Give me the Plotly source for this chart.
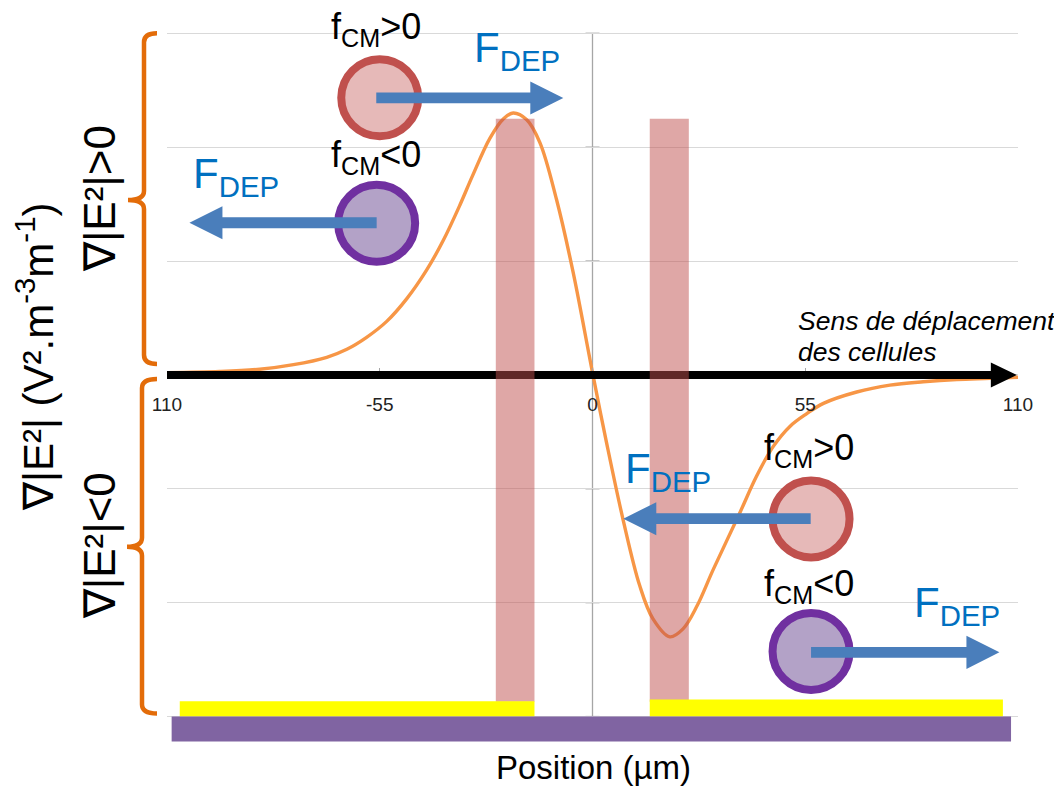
import plotly.graph_objects as go

# ---------------- data ----------------
position_um = [-110, -96.4, -86, -77.3, -68.7, -63.5, -58.4, -53.2, -48, -42.9, -38.6, -34.3, -31, -26.5, -23, -20.5,
               -17, -13.6, -9.3, -5, 0,
               3.6, 7.9, 12.2, 15.6, 20, 23.4, 27, 31.2, 38.1, 42.4, 46.7, 51.1, 55.4, 59.7, 68.3, 76.9, 85.5, 94.2,
               102.8, 110]
grad_e2 = [0.02, 0.03, 0.05, 0.09, 0.155, 0.225, 0.33, 0.47, 0.67, 0.92, 1.18, 1.49, 1.75, 2.08, 2.25, 2.30,
           2.24, 2.04, 1.54, 0.90, 0.02,
           -0.59, -1.27, -1.85, -2.14, -2.30, -2.23, -2.03, -1.71, -1.21, -0.89, -0.63, -0.45, -0.34, -0.25, -0.15,
           -0.09, -0.06, -0.04, -0.03, -0.02]

tick_vals = [-110, -55, 0, 55, 110]
tick_text = ["110", "-55", "0", "55", "110"]
grid_vals = [-3, -2, -1, 0, 1, 2, 3]

# electrodes (semi-transparent bars), gold layers and substrate
elec_x0 = [-25.0, 14.8]
elec_x1 = [-15.0, 24.9]
elec_top = [2.25, 2.25]
elec_bottom = [-2.87, -2.87]
gold_x0 = [-106.7, 14.8]
gold_x1 = [-15.0, 106.1]
gold_top = [-2.866, -2.851]
gold_bottom = [-3.0, -3.0]
sub_x = [-108.8, 108.2]
sub_y = [-3.0, -3.22]

# cells
cell_x = [-55.0, -55.8, 56.5, 56.5]
cell_y = [2.434, 1.332, -1.265, -2.428]
cell_fill = ["#E6B9B8", "#B3A2C7", "#E6B9B8", "#B3A2C7"]
cell_edge = ["#C0504D", "#7030A0", "#C0504D", "#7030A0"]
fcm_text = ["f<sub>CM</sub>&gt;0", "f<sub>CM</sub>&lt;0", "f<sub>CM</sub>&gt;0", "f<sub>CM</sub>&lt;0"]
fcm_x = [-56.0, -56.0, 56.0, 56.0]
fcm_base = [2.945, 1.827, -0.746, -1.945]

# DEP force arrows
dep_tail_x = [-55.9, -55.8, 56.4, 56.5]
dep_tip_x = [-7.55, -104.2, 7.96, 105.2]
dep_y = [2.432, 1.336, -1.263, -2.436]
dep_label_x = [-19.5, -92.2, 19.6, 94.3]
dep_label_base = [2.746, 1.640, -0.947, -2.123]

# cell displacement arrow along y = 0
move_x = [-110.0, 109.7]
move_y = 0.0

# ---------------- layout geometry ----------------
OFF = 8                      # page body margin of the browser
W, H = 1062 - OFF, 789 - OFF
ML, MR, MT, MB = 167 - OFF, 44, 30.72 - OFF, 43.5
X_RANGE = [-110, 110]
Y_RANGE = [-3.25, 3.02]
PW = W - ML - MR
PH = H - MT - MB
UX = (X_RANGE[1] - X_RANGE[0]) / PW   # data units per pixel (x)
UY = (Y_RANGE[1] - Y_RANGE[0]) / PH   # data units per pixel (y)


def pxp(px):
    return (px - OFF - ML) / PW


def pyp(py):
    return (H - MB - (py - OFF)) / PH


FONT = "Liberation Sans, Arial, sans-serif"
ORANGE = "#F79646"
BRACE = "#E36C09"
BLUE = "#4A7EBB"
BLUE_TXT = "#0070C0"


def arrow_path(x0, x1, y, half_shaft, head_len, head_half):
    s = 1 if x1 > x0 else -1
    base = x1 - s * head_len * UX
    hs = half_shaft * UY
    hh = head_half * UY
    pts = [(x0, y + hs), (base, y + hs), (base, y + hh), (x1, y),
           (base, y - hh), (base, y - hs), (x0, y - hs)]
    return "M " + " L ".join(f"{a},{b}" for a, b in pts) + " Z"


def brace_path(x_line, x_hook, x_nub, top, mid, bot, r=9):
    X, Y = pxp, pyp
    return (f"M {X(x_hook)},{Y(top)} Q {X(x_line)},{Y(top)} {X(x_line)},{Y(top + r)} "
            f"L {X(x_line)},{Y(mid - r)} Q {X(x_line)},{Y(mid)} {X(x_nub)},{Y(mid)} "
            f"Q {X(x_line)},{Y(mid)} {X(x_line)},{Y(mid + r)} "
            f"L {X(x_line)},{Y(bot - r)} Q {X(x_line)},{Y(bot)} {X(x_hook)},{Y(bot)}")


fig = go.Figure()

fig.add_trace(go.Scatter(
    x=position_um, y=grad_e2, mode="lines",
    line=dict(color=ORANGE, width=3.4, shape="spline", smoothing=1.0),
    hoverinfo="skip", showlegend=False))

fig.add_trace(go.Scatter(
    x=cell_x, y=cell_y, mode="markers",
    marker=dict(size=77, color=cell_fill, line=dict(color=cell_edge, width=8)),
    hoverinfo="skip", showlegend=False))

shapes = []
# vertical axis line at x = 0 with crossing ticks
shapes.append(dict(type="line", xref="x", yref="y", x0=0, x1=0, y0=-3, y1=3,
                   line=dict(color="#A6A6A6", width=1.3), layer="below"))
for g in grid_vals:
    shapes.append(dict(type="line", xref="x", yref="y", xsizemode="pixel", xanchor=0,
                       x0=-7, x1=7, y0=g, y1=g, line=dict(color="#A6A6A6", width=1.3), layer="below"))

# black displacement arrow
shapes.append(dict(type="path", xref="x", yref="y",
                   path=arrow_path(move_x[0], move_x[1], move_y, 4, 26, 12.5),
                   fillcolor="black", line=dict(width=0), layer="above"))
# electrodes
for a, b, t, bt in zip(elec_x0, elec_x1, elec_top, elec_bottom):
    shapes.append(dict(type="rect", xref="x", yref="y", x0=a, x1=b, y0=bt, y1=t,
                       fillcolor="rgba(192,80,77,0.5)", line=dict(width=0), layer="above"))
# gold layers
for a, b, t, bt in zip(gold_x0, gold_x1, gold_top, gold_bottom):
    shapes.append(dict(type="rect", xref="x", yref="y", x0=a, x1=b, y0=bt, y1=t,
                       fillcolor="#FFFF00", line=dict(width=0), layer="above"))
# substrate
shapes.append(dict(type="rect", xref="x", yref="y", x0=sub_x[0], x1=sub_x[1], y0=sub_y[1], y1=sub_y[0],
                   fillcolor="#8064A2", line=dict(width=0), layer="above"))
# DEP arrows
for x0, x1, y in zip(dep_tail_x, dep_tip_x, dep_y):
    shapes.append(dict(type="path", xref="x", yref="y",
                       path=arrow_path(x0, x1, y, 5.4, 33, 16.6),
                       fillcolor=BLUE, line=dict(width=0), layer="above"))
# braces
shapes.append(dict(type="path", xref="paper", yref="paper",
                   path=brace_path(144, 157, 128, 33, 200, 364),
                   line=dict(color=BRACE, width=4.5)))
shapes.append(dict(type="path", xref="paper", yref="paper",
                   path=brace_path(142, 157, 127, 379, 547, 714),
                   line=dict(color=BRACE, width=4.5)))

annotations = []
for t, x, yb in zip(fcm_text, fcm_x, fcm_base):
    annotations.append(dict(text=t, x=x, y=yb, xref="x", yref="y", xanchor="center", yanchor="bottom",
                            yshift=-(0.36 * 36 + 1), borderpad=0, showarrow=False,
                            font=dict(family=FONT, size=36, color="black")))
for x, yb in zip(dep_label_x, dep_label_base):
    annotations.append(dict(text="F<sub>DEP</sub>", x=x, y=yb, xref="x", yref="y", xanchor="center",
                            yanchor="bottom", yshift=-(0.36 * 42 + 2), showarrow=False,
                            font=dict(family=FONT, size=42, color=BLUE_TXT)))
for txt, yb in zip(["Sens de déplacement", "des cellules"], [0.395, 0.117]):
    annotations.append(dict(text=f"<i>{txt}</i>", x=52.6, y=yb, xref="x", yref="y", xanchor="left",
                            yanchor="bottom", yshift=-(0.212 * 26.5 + 2), showarrow=False,
                            font=dict(family=FONT, size=26.5, color="black")))
annotations.append(dict(text="Position (µm)", x=pxp(593.5), y=pyp(789), xref="paper", yref="paper",
                        xanchor="center", yanchor="bottom", showarrow=False,
                        font=dict(family=FONT, size=33, color="black")))
annotations.append(dict(text="∇|E²| (V².m<sup>-3</sup>m<sup>-1</sup>)", x=pxp(35), y=pyp(357),
                        xref="paper", yref="paper", xanchor="center", yanchor="middle", textangle=-90,
                        showarrow=False, font=dict(family=FONT, size=42, color="black")))
annotations.append(dict(text="∇|E²|&gt;0", x=pxp(99), y=pyp(199), xref="paper", yref="paper",
                        xanchor="center", yanchor="middle", textangle=-90, showarrow=False,
                        font=dict(family=FONT, size=44, color="black")))
annotations.append(dict(text="∇|E²|&lt;0", x=pxp(99), y=pyp(546.5), xref="paper", yref="paper",
                        xanchor="center", yanchor="middle", textangle=-90, showarrow=False,
                        font=dict(family=FONT, size=44, color="black")))

fig.update_layout(
    width=W, height=H,
    margin=dict(l=ML, r=MR, t=MT, b=MB, pad=0),
    paper_bgcolor="white", plot_bgcolor="white",
    showlegend=False,
    shapes=shapes, annotations=annotations,
    xaxis=dict(range=X_RANGE, tickvals=tick_vals, ticktext=tick_text, showgrid=False, zeroline=False,
               showline=False, anchor="free", position=(0 - Y_RANGE[0]) / (Y_RANGE[1] - Y_RANGE[0]),
               ticks="inside", ticklen=7, tickcolor="#A6A6A6", tickwidth=1.3, ticklabelstandoff=16,
               tickfont=dict(family=FONT, size=19, color="#222222"), automargin=False, fixedrange=True),
    yaxis=dict(range=Y_RANGE, tickvals=grid_vals, showticklabels=False, ticks="", showgrid=True,
               gridcolor="#D9D9D9", gridwidth=1.2, zeroline=False, showline=False, automargin=False,
               fixedrange=True),
)

fig.write_html("out.html")
